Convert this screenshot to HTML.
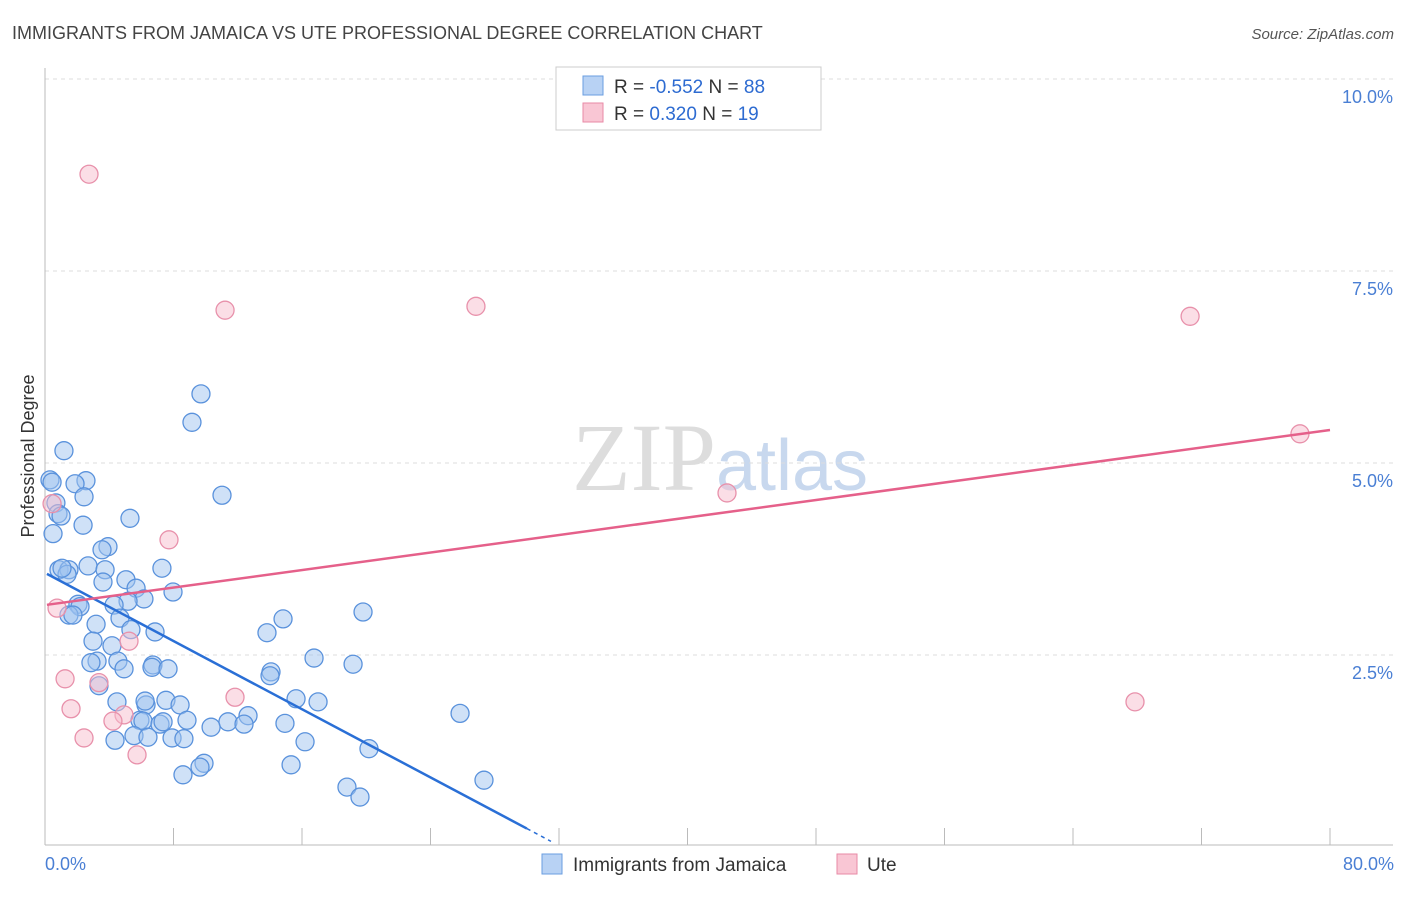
<!DOCTYPE html>
<html><head><meta charset="utf-8"><style>
body{margin:0;background:#fff;font-family:"Liberation Sans",sans-serif}
</style></head><body>
<svg width="1406" height="892" viewBox="0 0 1406 892" xmlns="http://www.w3.org/2000/svg" font-family="Liberation Sans, sans-serif">
<text x="12" y="39" font-size="18" fill="#444">IMMIGRANTS FROM JAMAICA VS UTE PROFESSIONAL DEGREE CORRELATION CHART</text>
<text x="1394" y="39" font-size="15" fill="#555" text-anchor="end" font-style="italic">Source: ZipAtlas.com</text>
<text x="720" y="490" font-size="96" text-anchor="middle" fill="#ddd" font-family="Liberation Serif, serif">ZIP<tspan fill="#c8d8ee" font-family="Liberation Sans, sans-serif" font-size="72">atlas</tspan></text>
<g id="grid"></g>
<g id="axes"></g>
<text transform="translate(34,456) rotate(-90)" font-size="18" fill="#333" text-anchor="middle">Professional Degree</text>
<g id="pts"></g>
<g id="lines"></g>
<g>
<rect x="556" y="67" width="265" height="63" fill="#fff" stroke="#ccc"/>
<rect x="583" y="76" width="20" height="19" fill="#b8d2f4" stroke="#6a9ee0"/>
<rect x="583" y="103" width="20" height="19" fill="#f9c6d4" stroke="#e88aa6"/>
<text x="614" y="93" font-size="19" fill="#333">R = <tspan fill="#2d6bd1">-0.552</tspan>   N = <tspan fill="#2d6bd1">88</tspan></text>
<text x="614" y="120" font-size="19" fill="#333">R =  <tspan fill="#2d6bd1"> 0.320</tspan>   N =  <tspan fill="#2d6bd1">19</tspan></text>
</g>
<g>
<rect x="542" y="854" width="20" height="20" fill="#b8d2f4" stroke="#6a9ee0"/>
<text x="573" y="871" font-size="19" fill="#333">Immigrants from Jamaica</text>
<rect x="837" y="854" width="20" height="20" fill="#f9c6d4" stroke="#e88aa6"/>
<text x="867" y="871" font-size="19" fill="#333">Ute</text>
</g>
<text x="45" y="870" font-size="18" fill="#4a7fd4">0.0%</text>
<text x="1394" y="870" font-size="18" fill="#4a7fd4" text-anchor="end">80.0%</text>
</svg>
<script>
const blueX=[1.18,0.31,0.44,2.55,1.87,0.68,2.43,0.81,1.00,5.29,2.37,0.50,11.02,9.15,9.71,3.92,3.55,2.68,0.87,1.49,1.37,3.74,7.28,5.04,3.61,5.67,7.97,6.16,5.17,2.05,2.18,4.30,1.49,1.74,4.67,6.85,5.35,3.18,4.17,2.99,13.82,14.82,19.80,3.24,2.86,4.54,4.92,6.72,6.66,7.66,14.07,14.01,16.75,19.18,3.36,4.48,6.29,7.53,8.41,15.63,17.00,5.91,6.10,7.16,7.35,8.84,11.39,12.64,10.34,12.39,14.94,25.84,4.36,5.54,6.41,7.91,8.65,16.19,20.17,9.90,9.65,15.32,8.59,27.33,18.80,19.61,1.06,6.23];
const blueY=[5.16,4.78,4.75,4.77,4.73,4.48,4.56,4.34,4.31,4.28,4.19,4.08,4.58,5.53,5.90,3.91,3.87,3.66,3.61,3.61,3.55,3.61,3.63,3.48,3.45,3.37,3.32,3.23,3.20,3.16,3.13,3.15,3.02,3.02,2.98,2.80,2.83,2.90,2.62,2.68,2.79,2.97,3.06,2.42,2.40,2.42,2.32,2.37,2.34,2.32,2.28,2.23,2.46,2.38,2.10,1.89,1.85,1.91,1.85,1.93,1.89,1.65,1.64,1.60,1.63,1.65,1.63,1.71,1.56,1.60,1.61,1.74,1.39,1.45,1.43,1.42,1.41,1.37,1.28,1.09,1.04,1.07,0.94,0.87,0.78,0.65,3.63,1.90];
const pinkX=[2.74,11.21,26.83,71.29,78.13,42.46,0.44,7.72,0.75,5.23,1.25,3.36,11.83,1.62,4.92,4.23,2.43,5.73,67.86];
const pinkY=[8.76,6.99,7.04,6.91,5.38,4.61,4.47,4.00,3.11,2.68,2.19,2.14,1.95,1.80,1.72,1.64,1.42,1.20,1.89];
const blueTrend=[3.57,-0.111]; // intercept, slope
const pinkTrend=[3.15,0.0285];
const yTicks=[2.5,5.0,7.5,10.0];
const xTickVals=[0,8,16,24,32,40,48,56,64,72,80];
const NS="http://www.w3.org/2000/svg";
const X=v=>45+v*1285/80, Y=v=>847-v*76.8;
function mk(t,a,p){const e=document.createElementNS(NS,t);for(const k in a)e.setAttribute(k,a[k]);p.appendChild(e);return e;}
const grid=document.getElementById('grid'),axes=document.getElementById('axes');
yTicks.forEach(t=>{
  const l=mk('line',{x1:45,x2:1393,y1:Y(t),y2:Y(t),stroke:'#ddd','stroke-dasharray':'4,4'},grid);
  
  
  const tx=mk('text',{x:1393,y:Y(t)+24,'font-size':18,fill:'#4a7fd4','text-anchor':'end'},axes);
  tx.textContent=t.toFixed(1)+'%';
  
  
});
mk('line',{x1:45,x2:45,y1:68,y2:845,stroke:'#bbb'},axes);
mk('line',{x1:45,x2:1393,y1:845,y2:845,stroke:'#bbb'},axes);
xTickVals.forEach(t=>{
  const l=mk('line',{x1:X(t),x2:X(t),y1:828,y2:845,stroke:'#bbb'},axes);
  
  
});
const pts=document.getElementById('pts');
blueX.forEach((v,i)=>{
  const c=mk('circle',{cx:X(v),cy:Y(blueY[i]),r:9,fill:'rgba(160,196,240,0.5)',stroke:'#5a92dc','stroke-width':1.3},pts);
  
  
});
pinkX.forEach((v,i)=>{
  const c=mk('circle',{cx:X(v),cy:Y(pinkY[i]),r:9,fill:'rgba(248,190,206,0.5)',stroke:'#e891ab','stroke-width':1.3},pts);
  
  
});
const lines=document.getElementById('lines');
const x0=0.12,x1b=30,x2b=31.5;
let l=mk('line',{x1:X(x0),y1:Y(blueTrend[0]+blueTrend[1]*x0),x2:X(x1b),y2:Y(blueTrend[0]+blueTrend[1]*x1b),stroke:'#2a6fd6','stroke-width':2.5},lines);


l=mk('line',{x1:X(x1b),y1:Y(blueTrend[0]+blueTrend[1]*x1b),x2:X(x2b),y2:Y(blueTrend[0]+blueTrend[1]*x2b),stroke:'#2a6fd6','stroke-width':1.5,'stroke-dasharray':'4,4'},lines);


l=mk('line',{x1:X(x0),y1:Y(pinkTrend[0]+pinkTrend[1]*x0),x2:X(80),y2:Y(pinkTrend[0]+pinkTrend[1]*80),stroke:'#e5608a','stroke-width':2.5},lines);


</script>
</body></html>
